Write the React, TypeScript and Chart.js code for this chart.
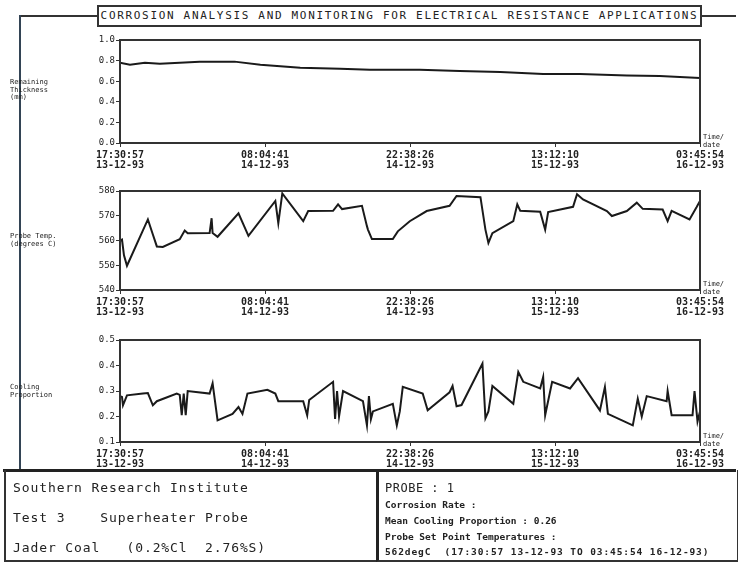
import React, { useEffect, useRef } from "react";
import { Chart, registerables } from "chart.js";

Chart.register(...registerables);

// ---- data (x in hours elapsed since 17:30:57 13-12-93) ----
const xTickHours = [0, 14.5625, 29.125, 43.6875, 58.25];
const xTickTimes = ["17:30:57", "08:04:41", "22:38:26", "13:12:10", "03:45:54"];
const xTickDates = ["13-12-93", "14-12-93", "14-12-93", "15-12-93", "16-12-93"];

const thicknessHours = [0, 1.0, 2.5, 4.0, 8.0, 11.5, 14.1, 18.1, 22.1, 25.1, 30.1, 34.1, 38.2, 42.5, 46.2, 50.9, 54.2, 58.25];
const thicknessValues = [0.78, 0.76, 0.78, 0.77, 0.79, 0.79, 0.76, 0.73, 0.72, 0.71, 0.71, 0.70, 0.69, 0.67, 0.67, 0.655, 0.65, 0.63];

const tempHours = [0, 0.2, 0.4, 0.7, 2.8, 3.3, 3.7, 4.3, 6.0, 6.5, 6.8, 9.0, 9.2, 9.3, 9.8, 11.9, 12.9, 15.6, 15.9, 16.3, 18.4, 18.9, 21.4, 21.9, 22.3, 24.3, 24.8, 24.9, 25.3, 27.4, 27.9, 29.1, 30.8, 33.1, 33.8, 36.2, 36.7, 37.0, 37.4, 39.5, 39.9, 40.2, 42.2, 42.7, 43.0, 45.5, 45.9, 46.5, 48.9, 49.4, 50.9, 51.9, 52.5, 54.5, 55.0, 55.4, 57.2, 57.9, 58.25];
const tempValues = [560, 560.4, 554, 549.8, 568.5, 562.4, 557.6, 557.4, 560.5, 564, 562.9, 563, 569, 563, 561.5, 571, 561.9, 576, 567, 579, 567.8, 571.9, 572, 574.6, 572.7, 574, 565.8, 564.4, 560.6, 560.6, 563.7, 567.8, 571.9, 574, 578, 577.5, 564.4, 559, 563, 567.8, 574.6, 572, 571.6, 564.4, 571.5, 573.6, 578.7, 576.6, 571.9, 569.9, 571.9, 575.3, 572.8, 572.5, 567.8, 572, 568.5, 573.4, 576];

const coolHours = [0, 0.2, 0.3, 0.7, 2.3, 2.8, 3.3, 3.7, 5.7, 6.0, 6.2, 6.4, 6.6, 6.8, 9.0, 9.3, 9.8, 11.3, 11.9, 12.3, 12.8, 14.8, 15.6, 15.9, 18.4, 18.8, 19.0, 21.4, 21.6, 21.8, 22.0, 22.4, 24.4, 24.8, 25.0, 25.2, 25.4, 27.4, 27.8, 28.1, 28.4, 30.4, 30.9, 33.1, 33.4, 33.8, 34.3, 36.4, 36.7, 37.0, 37.4, 39.5, 40.0, 40.5, 42.2, 42.5, 42.7, 43.4, 45.2, 46.0, 48.2, 48.7, 49.0, 51.5, 52.0, 52.4, 52.9, 54.9, 55.0, 55.4, 57.5, 57.7, 58.0, 58.25];
const coolValues = [0.28, 0.277, 0.244, 0.283, 0.29, 0.292, 0.244, 0.26, 0.29, 0.285, 0.205, 0.29, 0.205, 0.30, 0.29, 0.33, 0.185, 0.21, 0.237, 0.21, 0.29, 0.305, 0.29, 0.26, 0.26, 0.205, 0.265, 0.336, 0.19, 0.30, 0.20, 0.30, 0.26, 0.165, 0.28, 0.19, 0.22, 0.25, 0.165, 0.22, 0.316, 0.29, 0.224, 0.295, 0.32, 0.24, 0.245, 0.408, 0.193, 0.22, 0.32, 0.25, 0.375, 0.336, 0.31, 0.355, 0.205, 0.336, 0.31, 0.35, 0.224, 0.316, 0.21, 0.165, 0.27, 0.20, 0.28, 0.26, 0.30, 0.205, 0.205, 0.30, 0.18, 0.22];

const titleText = "CORROSION ANALYSIS AND MONITORING FOR ELECTRICAL RESISTANCE APPLICATIONS";

const MONO = "'DejaVu Sans Mono', 'Liberation Mono', monospace";
const INK = "#222";

const framePlugin = {
  id: "frame",
  afterDraw(chart: any) {
    const { ctx, chartArea } = chart;
    const { left, top, right, bottom } = chartArea;
    ctx.save();
    ctx.strokeStyle = "#333";
    ctx.lineWidth = 2;
    ctx.strokeRect(left, top, right - left, bottom - top);
    ctx.restore();
  },
};

type PanelProps = {
  top: number;
  height: number;
  xs: number[];
  ys: number[];
  min: number;
  max: number;
  step: number;
  decimals: number;
};

function Panel({ top, height, xs, ys, min, max, step, decimals }: PanelProps) {
  const ref = useRef<HTMLCanvasElement | null>(null);
  useEffect(() => {
    if (!ref.current) return;
    const chart = new Chart(ref.current, {
      type: "line",
      data: {
        datasets: [
          {
            data: xs.map((x, i) => ({ x, y: ys[i] })),
            borderColor: "#1a1a1a",
            borderWidth: 2,
            pointRadius: 0,
            tension: 0,
          },
        ],
      },
      options: {
        animation: false,
        responsive: false,
        events: [],
        layout: { padding: { top: 10, right: 38, left: 0, bottom: 0 } },
        plugins: { legend: { display: false }, tooltip: { enabled: false } },
        scales: {
          x: {
            type: "linear",
            min: 0,
            max: 58.25,
            afterBuildTicks: (s: any) => {
              s.ticks = xTickHours.map((v) => ({ value: v }));
            },
            afterFit: (s: any) => {
              s.height = 32;
            },
            grid: { drawOnChartArea: false, drawTicks: true, tickLength: 4, color: "#333" },
            border: { color: "#333", width: 2 },
            ticks: {
              autoSkip: false,
              maxRotation: 0,
              padding: 4,
              color: INK,
              font: { family: MONO, size: 10, weight: "bold", lineHeight: 0.95 },
              callback: (_v: any, i: number) => [xTickTimes[i], xTickDates[i]],
            },
          },
          y: {
            type: "linear",
            min,
            max,
            afterFit: (s: any) => {
              s.width = 120;
            },
            grid: { drawOnChartArea: false, drawTicks: true, tickLength: 4, color: "#333" },
            border: { color: "#2a4a4a", width: 2 },
            ticks: {
              stepSize: step,
              padding: 1,
              color: INK,
              font: { family: MONO, size: 9 },
              callback: (v: any) => Number(v).toFixed(decimals),
            },
          },
        },
      },
      plugins: [framePlugin],
    } as any);
    return () => chart.destroy();
  }, []);
  return (
    <canvas
      ref={ref}
      width={738}
      height={height}
      style={{ position: "absolute", left: 0, top, width: 738, height, display: "block" }}
    />
  );
}

const smallLabel: React.CSSProperties = {
  position: "absolute",
  fontFamily: MONO,
  fontSize: 7,
  lineHeight: "7.5px",
  color: INK,
  whiteSpace: "pre",
};

function TimeDate({ top }: { top: number }) {
  return (
    <div style={{ ...smallLabel, left: 703, top }}>
      {"Time/\ndate"}
    </div>
  );
}

export default function App() {
  return (
    <div
      style={{
        position: "absolute",
        left: 0,
        top: 0,
        width: 738,
        height: 566,
        background: "#fff",
        overflow: "hidden",
        fontFamily: MONO,
      }}
    >
      {/* outer frame lines */}
      <div style={{ position: "absolute", left: 20, top: 15, width: 77, height: 0, borderTop: "2px solid #333" }} />
      <div style={{ position: "absolute", left: 700, top: 15, width: 36, height: 0, borderTop: "2px solid #333" }} />
      <div style={{ position: "absolute", left: 19, top: 15, width: 0, height: 456, borderLeft: "2px solid #345" }} />
      {/* title */}
      <div
        style={{
          position: "absolute",
          left: 97,
          top: 5,
          width: 601,
          height: 18,
          border: "2px solid #333",
          fontSize: 11,
          lineHeight: "18px",
          letterSpacing: 1.68,
          textAlign: "center",
          whiteSpace: "nowrap",
          color: INK,
          overflow: "hidden",
        }}
      >
        {titleText}
      </div>

      <Panel top={30} height={145} xs={thicknessHours} ys={thicknessValues} min={0} max={1} step={0.2} decimals={1} />
      <Panel top={181} height={141} xs={tempHours} ys={tempValues} min={540} max={580} step={10} decimals={0} />
      <Panel top={330} height={144} xs={coolHours} ys={coolValues} min={0.1} max={0.5} step={0.1} decimals={1} />

      {/* y axis titles */}
      <div style={{ ...smallLabel, left: 10, top: 79 }}>{"Remaining\nThickness\n(mm)"}</div>
      <div style={{ ...smallLabel, left: 10, top: 233 }}>{"Probe Temp.\n(degrees C)"}</div>
      <div style={{ ...smallLabel, left: 10, top: 384 }}>{"Cooling\nProportion"}</div>

      <TimeDate top={134} />
      <TimeDate top={281} />
      <TimeDate top={433} />

      {/* bottom boxes */}
      <div style={{ position: "absolute", left: 3, top: 469, width: 733, height: 0, borderTop: "3px solid #222" }} />
      <div
        style={{
          position: "absolute",
          left: 4,
          top: 470,
          width: 372,
          height: 90,
          borderLeft: "2px solid #333",
          borderBottom: "2px solid #333",
          color: INK,
          fontSize: 13,
          letterSpacing: 0.9,
          whiteSpace: "pre",
        }}
      >
        <div style={{ position: "absolute", left: 7, top: 10 }}>Southern Research Institute</div>
        <div style={{ position: "absolute", left: 7, top: 40 }}>{"Test 3    Superheater Probe"}</div>
        <div style={{ position: "absolute", left: 7, top: 70 }}>{"Jader Coal   (0.2%Cl  2.76%S)"}</div>
      </div>
      <div
        style={{
          position: "absolute",
          left: 376,
          top: 470,
          width: 358,
          height: 90,
          borderLeft: "3px solid #222",
          borderRight: "2px solid #333",
          borderBottom: "2px solid #333",
          color: INK,
          whiteSpace: "pre",
        }}
      >
        <div style={{ position: "absolute", left: 6, top: 11, fontSize: 12, letterSpacing: 0.5 }}>PROBE : 1</div>
        <div style={{ position: "absolute", left: 6, top: 29, fontSize: 9.5, fontWeight: "bold" }}>Corrosion Rate :</div>
        <div style={{ position: "absolute", left: 6, top: 45, fontSize: 9.5, fontWeight: "bold" }}>Mean Cooling Proportion : 0.26</div>
        <div style={{ position: "absolute", left: 6, top: 61, fontSize: 9.5, fontWeight: "bold" }}>Probe Set Point Temperatures :</div>
        <div style={{ position: "absolute", left: 6, top: 76, fontSize: 9.5, fontWeight: "bold", letterSpacing: 0.9 }}>
          {"562degC  (17:30:57 13-12-93 TO 03:45:54 16-12-93)"}
        </div>
      </div>
    </div>
  );
}
